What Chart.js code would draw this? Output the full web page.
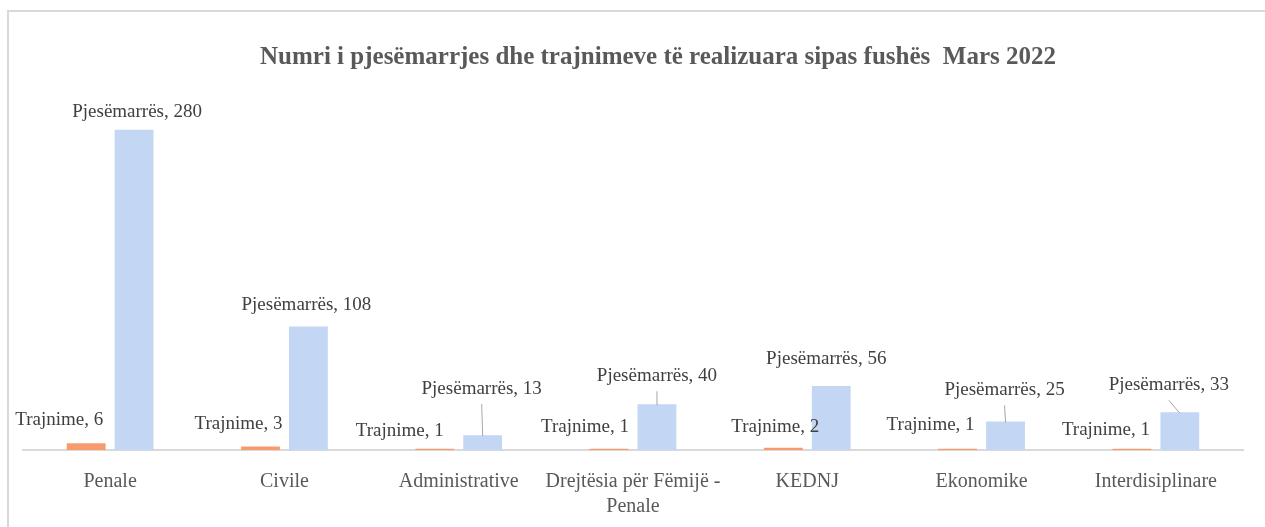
<!DOCTYPE html>
<html>
<head>
<meta charset="utf-8">
<script src="https://cdn.jsdelivr.net/npm/chart.js@4.4.1/dist/chart.umd.min.js"></script>
<style>
    html, body { margin: 0; padding: 0; background: #ffffff; overflow: hidden; }
    #wrap { position: relative; width: 1265px; height: 527px; overflow: hidden; }
    #frame {
        position: absolute; left: 7px; top: 10px; width: 1258px; height: 517px;
        border-top: 2px solid #d9d9d9; border-left: 2px solid #d9d9d9;
        box-sizing: border-box;
    }
    #chartBox { position: absolute; left: 0; top: 0; width: 1265px; height: 527px; }
</style>
</head>
<body>
<div id="wrap">
    <div id="frame"></div>
    <div id="chartBox"><canvas id="barChart"></canvas></div>
</div>
<script>
// Chart data
const chartTitle = 'Numri i pjesëmarrjes dhe trajnimeve të realizuara sipas fushës  Mars 2022';
const categories = [
    'Penale', 'Civile', 'Administrative', ['Drejtësia për Fëmijë -', 'Penale'],
    'KEDNJ', 'Ekonomike', 'Interdisiplinare'
];
const seriesNames = ['Trajnime', 'Pjesëmarrës'];
const trajnime = [6, 3, 1, 1, 2, 1, 1];
const pjesemarres = [280, 108, 13, 40, 56, 25, 33];
const yTicks = [0, 300];

// Label placement (offset of label centre from bar top centre), style only
const labelOffsets = [
    [[-27, -23], [-22, -23], [-35, -18], [-24, -22], [-8, -21], [-27, -24], [-26, -19]],
    [[3, -18], [-2, -22], [-1, -46], [0, -28], [-5, -27], [-1, -31], [-11, -27]]
];
const leaderLines = [
    [false, false, false, false, false, false, false],
    [false, false, true, true, false, true, true]
];

const serif = "'Liberation Serif', 'Times New Roman', serif";

// Draws "Series, value" labels plus the title
const dataLabelPlugin = {
    id: 'dataLabels',
    afterDatasetsDraw(chart) {
        const ctx = chart.ctx;
        ctx.save();
        ctx.font = '19px ' + serif;
        ctx.textAlign = 'center';
        ctx.textBaseline = 'middle';
        chart.data.datasets.forEach(function(ds, di) {
            const meta = chart.getDatasetMeta(di);
            meta.data.forEach(function(bar, i) {
                const off = labelOffsets[di][i];
                const lx = bar.x + off[0];
                const ly = bar.y + off[1];
                if (leaderLines[di][i]) {
                    ctx.strokeStyle = '#a6a6a6';
                    ctx.lineWidth = 1;
                    ctx.beginPath();
                    ctx.moveTo(lx, ly + 15);
                    ctx.lineTo(bar.x, bar.y + 1);
                    ctx.stroke();
                }
                ctx.fillStyle = '#404040';
                ctx.fillText(ds.label + ', ' + ds.data[i], lx, ly);
            });
        });

        const area = chart.chartArea;
        ctx.font = 'bold 25px ' + serif;
        ctx.fillStyle = '#595959';
        ctx.fillText(chartTitle, (area.left + area.right) / 2 + 25, 58);
        ctx.restore();
    }
};

const barCtx = document.getElementById('barChart').getContext('2d');
new Chart(barCtx, {
    type: 'bar',
    data: {
        labels: categories,
        datasets: [
            {
                label: seriesNames[0],
                data: trajnime,
                backgroundColor: '#f79b6c',
                categoryPercentage: 0.55,
                barPercentage: 0.81
            },
            {
                label: seriesNames[1],
                data: pjesemarres,
                backgroundColor: '#c3d6f3',
                categoryPercentage: 0.55,
                barPercentage: 0.81
            }
        ]
    },
    options: {
        responsive: true,
        maintainAspectRatio: false,
        animation: false,
        layout: {
            padding: { top: 107, left: 23, right: 22, bottom: 0 }
        },
        plugins: {
            legend: { display: false },
            title: { display: false },
            tooltip: { enabled: false }
        },
        scales: {
            x: {
                grid: { display: false, drawTicks: false },
                border: { display: true, color: '#d9d9d9', width: 2 },
                ticks: {
                    color: '#595959',
                    padding: 19,
                    maxRotation: 0,
                    autoSkip: false,
                    font: { family: serif, size: 20, lineHeight: 1.25 }
                },
                afterFit: function(scale) { scale.height = 77; }
            },
            y: {
                display: false,
                min: yTicks[0],
                max: yTicks[1]
            }
        }
    },
    plugins: [dataLabelPlugin]
});
</script>
</body>
</html>
